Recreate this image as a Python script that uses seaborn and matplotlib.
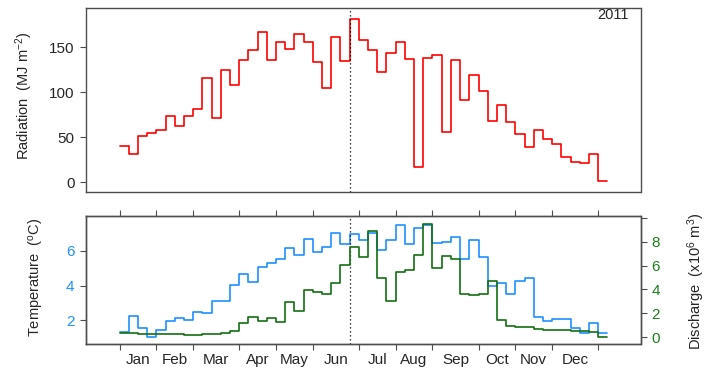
import numpy as np
import pandas as pd
import matplotlib
matplotlib.use("Agg")
import matplotlib.pyplot as plt
import seaborn as sns

# Weekly series for 2011 (53 weeks)
radiation = [40, 32, 51, 55, 58, 74, 63, 74, 81, 116, 71, 125, 108, 136, 147, 167,
             136, 156, 148, 165, 156, 134, 105, 162, 135, 181, 158, 147, 123, 144,
             156, 137, 17, 138, 142, 56, 136, 91, 119, 102, 68, 86, 67, 54, 39, 58,
             48, 43, 28, 23, 22, 31, 1]
temperature = [1.35, 2.27, 1.58, 1.04, 1.46, 1.96, 2.13, 2.00, 2.48, 2.40, 3.12, 3.12,
               4.02, 4.66, 4.21, 5.10, 5.29, 5.53, 6.16, 5.76, 6.70, 5.93, 6.22, 7.03,
               6.39, 6.97, 6.64, 7.05, 6.03, 6.66, 7.51, 6.43, 7.35, 7.50, 6.48, 6.52,
               6.83, 5.53, 6.66, 5.68, 4.00, 4.14, 3.52, 4.27, 4.43, 2.19, 1.98, 2.05,
               2.05, 1.55, 1.25, 1.83, 1.27]
discharge = [0.36, 0.34, 0.31, 0.29, 0.27, 0.25, 0.24, 0.23, 0.23, 0.24, 0.26, 0.35,
             0.53, 1.23, 1.69, 1.38, 1.60, 1.30, 2.92, 2.20, 3.95, 3.75, 3.62, 4.52,
             6.03, 7.53, 6.72, 8.87, 4.96, 3.06, 5.46, 5.66, 6.91, 9.51, 5.82, 6.77,
             6.57, 3.63, 3.53, 3.63, 4.71, 1.45, 0.97, 0.90, 0.82, 0.71, 0.64, 0.60,
             0.57, 0.54, 0.50, 0.47, 0.04]
months = ["Jan", "Feb", "Mar", "Apr", "May", "Jun",
          "Jul", "Aug", "Sep", "Oct", "Nov", "Dec"]
month_start_week = [0, 4, 8, 13, 17, 21, 26, 30, 34, 39, 43, 47, 52]
marker_week = 25
year_label = "2011"

sns.set_style("white")
plt.rcParams["font.family"] = ["Liberation Sans", "DejaVu Sans"]
plt.rcParams["mathtext.fontset"] = "custom"
plt.rcParams["mathtext.rm"] = "Liberation Sans"
plt.rcParams["mathtext.it"] = "Liberation Sans"
plt.rcParams["mathtext.default"] = "regular"

RED = "#FF0000"
BLUE = "#1E90FF"
GREEN = "#137013"
GREEN_TXT = "#1E7E1E"
FRAME = "#4D4D4D"
FS_TICK = 11
FS_TITLE = 10.5
TICK_LEN = 4.4

# step data: each week is a flat segment from week i to week i+1
edges = np.arange(len(radiation) + 1)
df = pd.DataFrame({
    "week": edges,
    "radiation": radiation + [radiation[-1]],
    "temperature": temperature + [temperature[-1]],
    "discharge": discharge + [discharge[-1]],
})

W, H = 706, 372
fig = plt.figure(figsize=(W / 100, H / 100), dpi=100)

def frac(x0, x1, y_top, y_bot):
    return [x0 / W, 1 - y_bot / H, (x1 - x0) / W, (y_bot - y_top) / H]

ax_top = fig.add_axes(frac(85.5, 640.5, 8, 192.3))
ax_bot = fig.add_axes(frac(85.5, 640.5, 216, 344.3))
ax_q = ax_bot.twinx()

xlim = (-3.7, 56.6)

# --- radiation panel ---
sns.lineplot(data=df, x="week", y="radiation", ax=ax_top, color=RED, lw=1.2,
             drawstyle="steps-post", estimator=None)
ax_top.axvline(marker_week, color="black", lw=0.9, ls=(0, (1, 2.2)))
ax_top.set_xlim(*xlim)
ax_top.set_ylim(-11.1, 193.7)
ax_top.set_yticks([0, 50, 100, 150])
ax_top.set_xticks([])
ax_top.set_xlabel("")
ax_top.set_ylabel("")
ax_top.tick_params(axis="y", direction="out", length=TICK_LEN, width=0.8, color=FRAME,
                   labelsize=FS_TICK, pad=3.5, left=True)
ax_top.text(0.978, 0.962, year_label, transform=ax_top.transAxes, ha="right",
            va="center", fontsize=FS_TITLE)

# --- temperature / discharge panel ---
sns.lineplot(data=df, x="week", y="temperature", ax=ax_bot, color=BLUE, lw=1.2,
             drawstyle="steps-post", estimator=None)
sns.lineplot(data=df, x="week", y="discharge", ax=ax_q, color=GREEN, lw=1.2,
             drawstyle="steps-post", estimator=None)
ax_bot.axvline(marker_week, color="black", lw=0.9, ls=(0, (1, 2.2)))
ax_bot.set_xlim(*xlim)
ax_bot.set_ylim(0.615, 8.02)
ax_q.set_ylim(-0.59, 10.15)
ax_bot.set_yticks([2, 4, 6])
ax_q.set_yticks([0, 2, 4, 6, 8, 10])
ax_q.set_yticklabels(["0", "2", "4", "6", "8", ""])
for a in (ax_bot, ax_q):
    a.set_xlabel("")
    a.set_ylabel("")

ax_bot.set_xticks(month_start_week)
ax_bot.set_xticklabels([])
mids = [(a + b) / 2 for a, b in zip(month_start_week[:-1], month_start_week[1:])]
ax_bot.set_xticks(mids, minor=True)
ax_bot.set_xticklabels(months, minor=True)
ax_bot.tick_params(axis="x", which="major", direction="out", length=TICK_LEN, width=0.8,
                   color=FRAME, top=True, bottom=True)
ax_bot.tick_params(axis="x", which="minor", length=0, labelsize=FS_TICK, pad=6.5)
ax_bot.tick_params(axis="y", direction="out", length=TICK_LEN, width=0.8, color=FRAME,
                   labelsize=FS_TICK, labelcolor=BLUE, pad=3.5, left=True)
ax_q.tick_params(axis="y", direction="out", length=TICK_LEN, width=0.8, color=FRAME,
                 labelsize=FS_TICK, labelcolor=GREEN_TXT, pad=3.5, right=True)

for a in (ax_top, ax_bot, ax_q):
    for s in a.spines.values():
        s.set_visible(True)
        s.set_color(FRAME)
        s.set_linewidth(1.0)
ax_bot.set_zorder(1)
ax_q.set_zorder(2)
ax_q.patch.set_visible(False)

# axis titles
fig.text(24 / W, 1 - 96 / H, "Radiation  (MJ m$^{-2}$)", rotation=90,
         ha="center", va="center", fontsize=FS_TITLE)
fig.text(36 / W, 1 - 277 / H, "Temperature  ($^{o}$C)", rotation=90,
         ha="center", va="center", fontsize=FS_TITLE)
fig.text(696 / W, 1 - 281 / H, "Discharge  (x10$^{6}$ m$^{3}$)", rotation=90,
         ha="center", va="center", fontsize=FS_TITLE)

fig.savefig("out.png", dpi=100)
